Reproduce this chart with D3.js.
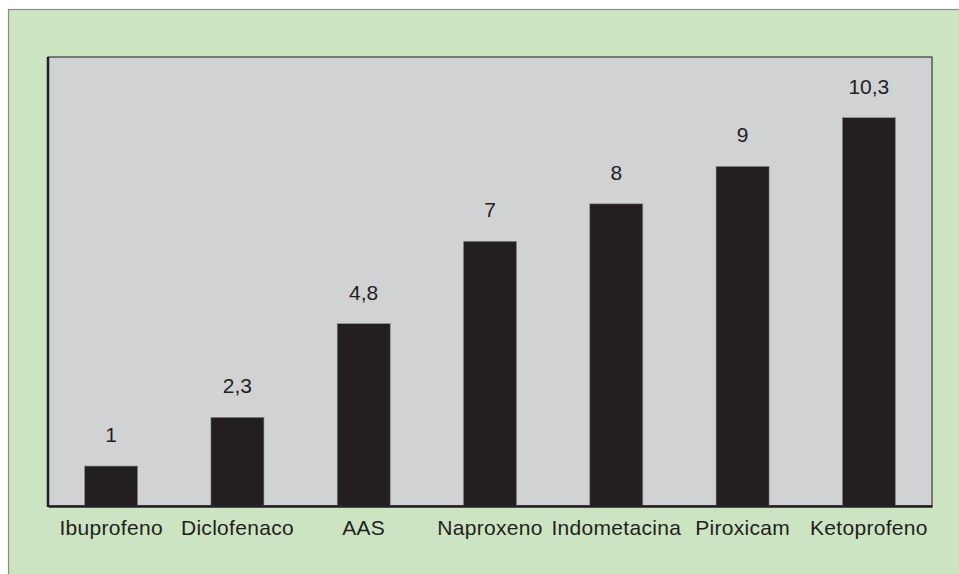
<!DOCTYPE html>
<html>
<head>
<meta charset="utf-8">
<script src="https://cdn.jsdelivr.net/npm/d3@7"></script>
<style>
  body { margin: 0; background: #fff; }
  text { font-family: "Liberation Sans", Arial, sans-serif; fill: #231f20; }
</style>
</head>
<body>
<div id="chart"></div>
<script>
// data
const drugs = ["Ibuprofeno", "Diclofenaco", "AAS", "Naproxeno", "Indometacina", "Piroxicam", "Ketoprofeno"];
const values = [1, 2.3, 4.8, 7, 8, 9, 10.3];
const valueLabels = ["1", "2,3", "4,8", "7", "8", "9", "10,3"];

const width = 959, height = 574;
const plot = {left: 48, top: 57, right: 932, bottom: 506};

let svg = d3.select("#chart")
    .append("svg")
    .attr("width", width)
    .attr("height", height);

// outer green panel
svg.append("rect")
    .attr("x", 8.5).attr("y", 9.5)
    .attr("width", width + 10).attr("height", height + 10)
    .attr("fill", "#cde4c2")
    .attr("stroke", "#8a8a8a")
    .attr("stroke-width", 1.2);

// gray plot area
svg.append("rect")
    .attr("x", plot.left).attr("y", plot.top)
    .attr("width", plot.right - plot.left).attr("height", plot.bottom - plot.top)
    .attr("fill", "#d1d2d4")
    .attr("stroke", "#3a3a3a")
    .attr("stroke-width", 1.2);

let x = d3.scaleBand()
    .domain(drugs)
    .range([plot.left, plot.right])
    .paddingInner(0.58)
    .paddingOuter(0.29);

let y = d3.scaleLinear()
    .domain([0, 12])
    .range([503.5, 54]);

let data = drugs.map(function(d, i) { return {name: d, value: values[i], label: valueLabels[i]}; });

svg.selectAll("rect.bar")
    .data(data)
    .enter()
    .append("rect")
    .attr("class", "bar")
    .attr("x", function(d) { return x(d.name); })
    .attr("y", function(d) { return y(d.value); })
    .attr("width", x.bandwidth())
    .attr("height", function(d) { return plot.bottom - y(d.value); })
    .attr("fill", "#231f20")
    .attr("stroke", "#8c8c8c")
    .attr("stroke-width", 0.6);

svg.selectAll("text.val")
    .data(data)
    .enter()
    .append("text")
    .attr("class", "val")
    .attr("x", function(d) { return x(d.name) + x.bandwidth() / 2; })
    .attr("y", function(d) { return y(d.value) - 24; })
    .style("text-anchor", "middle")
    .style("font-size", "21px")
    .text(function(d) { return d.label; });

// left and bottom axis lines (thicker, dark)
svg.append("line")
    .attr("x1", plot.left).attr("x2", plot.left)
    .attr("y1", plot.top).attr("y2", plot.bottom + 1)
    .attr("stroke", "#231f20").attr("stroke-width", 2.5);

let xAxis = svg.append("g")
    .attr("transform", `translate(0,${plot.bottom})`)
    .call(d3.axisBottom(x).tickSize(0).tickPadding(14));

xAxis.select(".domain")
    .attr("stroke", "#231f20")
    .attr("stroke-width", 2.5);

xAxis.selectAll("text")
    .style("font-size", "21px")
    .style("letter-spacing", "0.3px")
    .style("font-family", "'Liberation Sans', Arial, sans-serif")
    .attr("fill", "#231f20");
</script>
</body>
</html>
